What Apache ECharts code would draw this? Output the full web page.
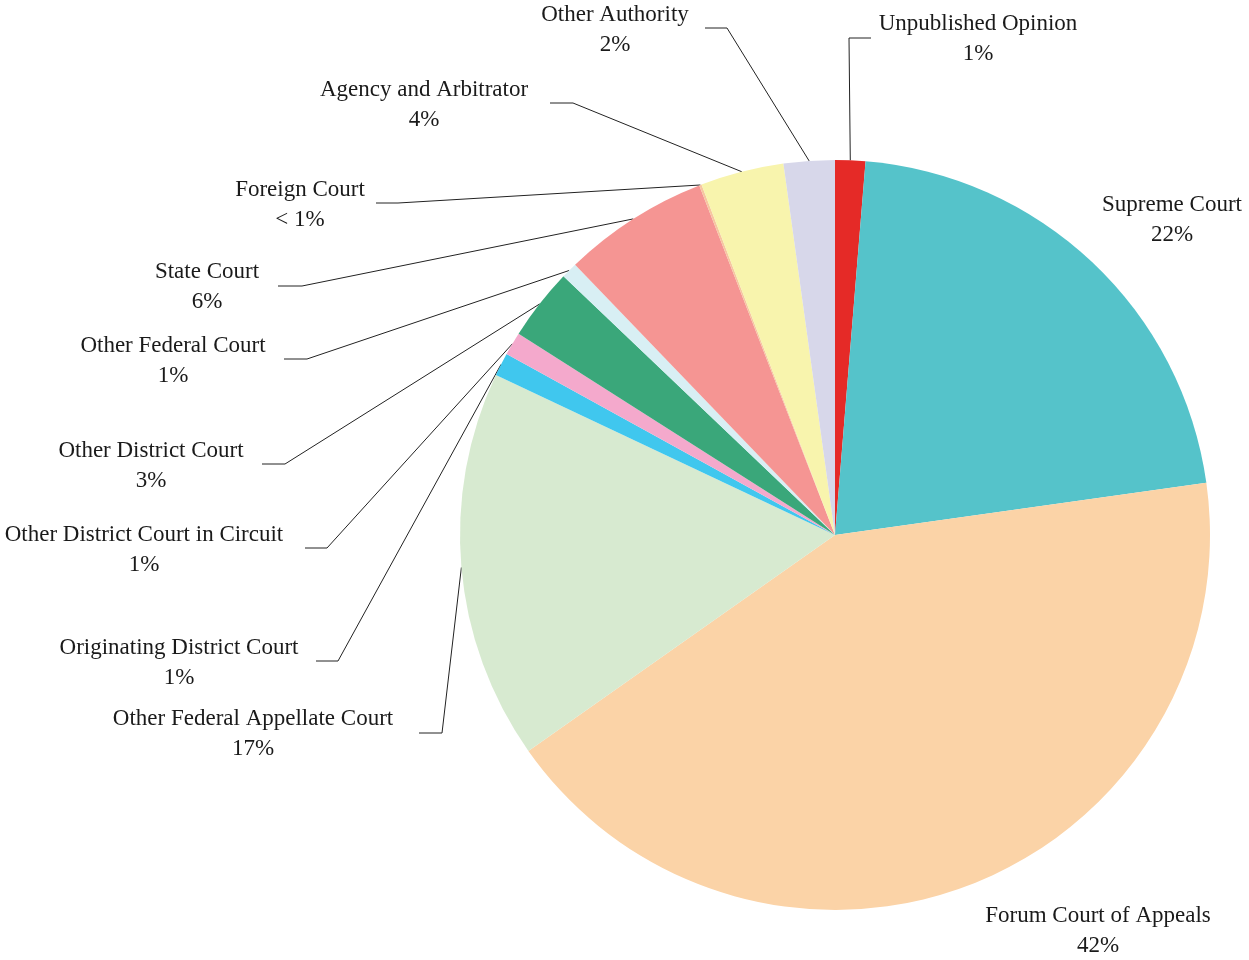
<!DOCTYPE html>
<html><head><meta charset="utf-8">
<script src="https://cdn.jsdelivr.net/npm/echarts@6/dist/echarts.min.js"></script>
<style>html,body{margin:0;padding:0;background:#fff}#chart{width:1249px;height:960px}</style>
</head><body><div id="chart"></div>
<script>
// ---- data ----
const categories = [
  'Unpublished Opinion', 'Supreme Court', 'Forum Court of Appeals',
  'Other Federal Appellate Court', 'Originating District Court',
  'Other District Court in Circuit', 'Other District Court',
  'Other Federal Court', 'State Court', 'Foreign Court',
  'Agency and Arbitrator', 'Other Authority'
];
const values = [1.3, 21.5, 42.5, 16.8, 1.0, 1.0, 3.1, 0.7, 6.3, 0.1, 3.6, 2.2];
const percentLabels = ['1%', '22%', '42%', '17%', '1%', '1%', '3%', '1%', '6%', '< 1%', '4%', '2%'];

// ---- styles / layout ----
const colors = ['#e52a27', '#55c3ca', '#fbd3a7', '#d7ead0', '#40c7ee', '#f4a9cc',
                '#3aa77a', '#d8eff4', '#f59593', '#f6c6a0', '#f8f4ad', '#d7d7ea'];
const CX = 835, CY = 535, R = 375;
const labelCenters = [[978,39],[1172,220],[1098,931],[253,734],[179,663],[144,550],
                      [151,466],[173,361],[207,287],[300,205],[424,105],[615,30]];
const lineElbows = [[849,38], null, null, [442,733],[338,661],[327,548],[285,464],
                    [307,359],[302,286],[398,203],[573,103],[727,28]];
const lineEnds = [[871,38], null, null, [419,733],[316,661],[305,548],[262,464],
                  [284,359],[278,286],[376,203],[550,103],[705,28]];

const total = values.reduce((a, b) => a + b, 0);
function edgePoint(i) {
  let cum = 0;
  for (let k = 0; k < i; k++) cum += values[k];
  const a = (90 - 360 * (cum + values[i] / 2) / total) * Math.PI / 180;
  return [CX + R * Math.cos(a), CY - R * Math.sin(a)];
}

const chart = echarts.init(document.getElementById('chart'), null, {renderer: 'canvas'});
const data = categories.map((name, i) => ({
  name, value: values[i],
  itemStyle: {color: colors[i]},
  labelLine: {show: lineEnds[i] !== null}
}));
chart.setOption({
  animation: false,
  series: [{
    type: 'pie',
    center: [CX, CY],
    radius: R,
    startAngle: 90,
    clockwise: true,
    avoidLabelOverlap: false,
    minShowLabelAngle: 0,
    data,
    itemStyle: {borderWidth: 0},
    emphasis: {disabled: true},
    label: {
      show: true, position: 'outside',
      formatter: p => p.name + '\n' + percentLabels[p.dataIndex],
      fontFamily: 'Liberation Serif', fontSize: 23, lineHeight: 30,
      color: '#1a1a1a', align: 'center'
    },
    labelLine: {show: true, length: 10, length2: 10, smooth: false,
                lineStyle: {color: '#222', width: 1}},
    labelLayout: function (p) {
      const i = p.dataIndex;
      const c = labelCenters[i];
      const out = {x: c[0], y: c[1], align: 'center', verticalAlign: 'middle'};
      if (lineEnds[i]) {
        const start = edgePoint(i);
        out.labelLinePoints = [start, lineElbows[i], lineEnds[i]];
      }
      return out;
    }
  }]
});
</script></body></html>
